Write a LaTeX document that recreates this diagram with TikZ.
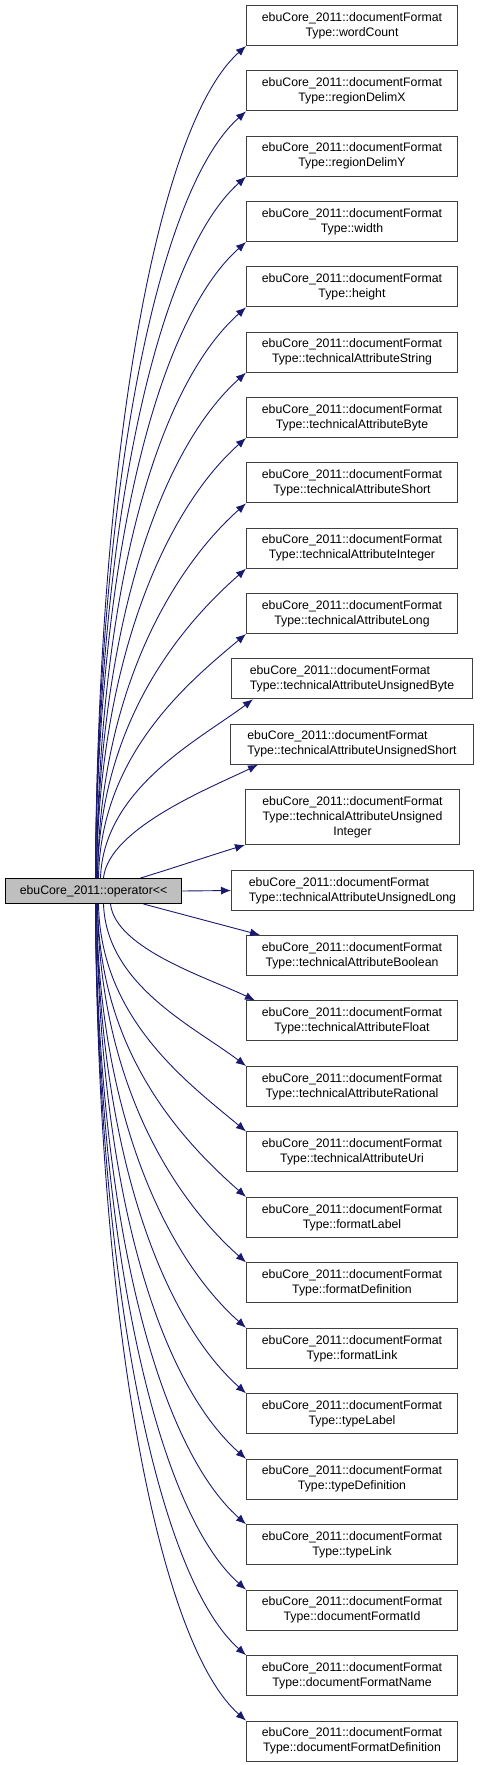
\documentclass[tikz,border=0pt]{standalone}
\usepackage{fontspec}
\setmainfont{Liberation Sans}
\usetikzlibrary{arrows.meta}
\definecolor{edgeblue}{HTML}{191970}
\definecolor{mainfill}{HTML}{BFBFBF}
\definecolor{boxline}{HTML}{404040}
\begin{document}
\begin{tikzpicture}[x={(1pt,0pt)},y={(0pt,-1pt)},
  box/.style={draw=boxline, line width=1pt, fill=white, anchor=north west,
    minimum width=211pt, minimum height=40pt, align=center, inner sep=0pt,
    font=\fontsize{12.3}{15}\selectfont},
  mainbox/.style={draw=black, line width=1pt, fill=mainfill, anchor=north west,
    minimum width=176pt, minimum height=25pt, inner sep=0pt,
    font=\fontsize{12.3}{15}\selectfont},
  edge/.style={draw=edgeblue, line width=0.9pt, -{Latex[length=10pt,width=8pt]}}]
\useasboundingbox (0,0) rectangle (480,1765);
\node[mainbox] (m) at (5,878) {ebuCore\_2011::operator\textless\kern0pt\textless};
\node[box] (b1) at (246,5) {ebuCore\_2011::documentFormat\\Type::wordCount};
\node[box] (b2) at (246,70.33) {ebuCore\_2011::documentFormat\\Type::regionDelimX};
\node[box] (b3) at (246,135.67) {ebuCore\_2011::documentFormat\\Type::regionDelimY};
\node[box] (b4) at (246,201) {ebuCore\_2011::documentFormat\\Type::width};
\node[box] (b5) at (246,266.33) {ebuCore\_2011::documentFormat\\Type::height};
\node[box] (b6) at (246,331.67) {ebuCore\_2011::documentFormat\\Type::technicalAttributeString};
\node[box] (b7) at (246,397) {ebuCore\_2011::documentFormat\\Type::technicalAttributeByte};
\node[box] (b8) at (246,462.33) {ebuCore\_2011::documentFormat\\Type::technicalAttributeShort};
\node[box] (b9) at (246,527.67) {ebuCore\_2011::documentFormat\\Type::technicalAttributeInteger};
\node[box] (b10) at (246,593) {ebuCore\_2011::documentFormat\\Type::technicalAttributeLong};
\node[box, align=left, minimum width=241pt] (b11) at (231,658.33) {ebuCore\_2011::documentFormat\\Type::technicalAttributeUnsignedByte};
\node[box, align=left, minimum width=243pt] (b12) at (230,723.67) {ebuCore\_2011::documentFormat\\Type::technicalAttributeUnsignedShort};
\node[box, minimum width=214pt, minimum height=55pt] (b13) at (245,789) {ebuCore\_2011::documentFormat\\Type::technicalAttributeUnsigned\\Integer};
\node[box, align=left, minimum width=242pt] (b14) at (231,870) {ebuCore\_2011::documentFormat\\Type::technicalAttributeUnsignedLong};
\node[box] (b15) at (246,935) {ebuCore\_2011::documentFormat\\Type::technicalAttributeBoolean};
\node[box] (b16) at (246,1000.47) {ebuCore\_2011::documentFormat\\Type::technicalAttributeFloat};
\node[box] (b17) at (246,1065.94) {ebuCore\_2011::documentFormat\\Type::technicalAttributeRational};
\node[box] (b18) at (246,1131.41) {ebuCore\_2011::documentFormat\\Type::technicalAttributeUri};
\node[box] (b19) at (246,1196.88) {ebuCore\_2011::documentFormat\\Type::formatLabel};
\node[box] (b20) at (246,1262.35) {ebuCore\_2011::documentFormat\\Type::formatDefinition};
\node[box] (b21) at (246,1327.82) {ebuCore\_2011::documentFormat\\Type::formatLink};
\node[box] (b22) at (246,1393.29) {ebuCore\_2011::documentFormat\\Type::typeLabel};
\node[box] (b23) at (246,1458.76) {ebuCore\_2011::documentFormat\\Type::typeDefinition};
\node[box] (b24) at (246,1524.23) {ebuCore\_2011::documentFormat\\Type::typeLink};
\node[box] (b25) at (246,1589.7) {ebuCore\_2011::documentFormat\\Type::documentFormatId};
\node[box] (b26) at (246,1655.17) {ebuCore\_2011::documentFormat\\Type::documentFormatName};
\node[box] (b27) at (246,1720.64) {ebuCore\_2011::documentFormat\\Type::documentFormatDefinition};
% upper edges
\draw[edge] ([xshift=2pt]m.north) .. controls +(2,-417) and +(-90,80) .. (b1.south west);
\draw[edge] ([xshift=2pt]m.north) .. controls +(2,-384) and +(-90,80) .. (b2.south west);
\draw[edge] ([xshift=2pt]m.north) .. controls +(2,-351) and +(-90,80) .. (b3.south west);
\draw[edge] ([xshift=2pt]m.north) .. controls +(2,-318) and +(-90,80) .. (b4.south west);
\draw[edge] ([xshift=3pt]m.north) .. controls +(2,-286) and +(-90,80) .. (b5.south west);
\draw[edge] ([xshift=3pt]m.north) .. controls +(2,-253) and +(-85,76) .. (b6.south west);
\draw[edge] ([xshift=3pt]m.north) .. controls +(2,-220) and +(-79,70) .. (b7.south west);
\draw[edge] ([xshift=4pt]m.north) .. controls +(2,-188) and +(-72,64) .. (b8.south west);
\draw[edge] ([xshift=4pt]m.north) .. controls +(2,-155) and +(-66,58) .. (b9.south west);
\draw[edge] ([xshift=5pt]m.north) .. controls +(2,-122) and +(-60,50) .. (b10.south west);
\draw[edge] ([xshift=7pt]m.north) .. controls +(3,-90) and +(-53,40) .. ([xshift=22pt]b11.south west);
\draw[edge] ([xshift=10pt]m.north) .. controls +(5,-50) and +(-45,22) .. ([xshift=28pt]b12.south west);
\draw[edge] ([xshift=47pt]m.north) .. controls +(30,-9) and +(-30,9) .. (b13.south west);
\draw[edge] (m.east) -- (b14.west);
% lower edges
\draw[edge] ([xshift=50pt]m.south) .. controls +(30,8) and +(-30,-8) .. ([xshift=14pt]b15.north west);
\draw[edge] ([xshift=17pt]m.south) .. controls +(5,45) and +(-45,-22) .. ([xshift=9pt]b16.north west);
\draw[edge] ([xshift=10pt]m.south) .. controls +(3,81) and +(-53,-40) .. (b17.north west);
\draw[edge] ([xshift=5pt]m.south) .. controls +(2,114) and +(-60,-50) .. (b18.north west);
\draw[edge] ([xshift=4pt]m.south) .. controls +(2,147) and +(-66,-58) .. (b19.north west);
\draw[edge] ([xshift=4pt]m.south) .. controls +(2,180) and +(-72,-64) .. (b20.north west);
\draw[edge] ([xshift=3pt]m.south) .. controls +(2,212) and +(-79,-70) .. (b21.north west);
\draw[edge] ([xshift=3pt]m.south) .. controls +(2,245) and +(-85,-76) .. (b22.north west);
\draw[edge] ([xshift=3pt]m.south) .. controls +(2,278) and +(-90,-80) .. (b23.north west);
\draw[edge] ([xshift=2pt]m.south) .. controls +(2,310) and +(-90,-80) .. (b24.north west);
\draw[edge] ([xshift=2pt]m.south) .. controls +(2,343) and +(-90,-80) .. (b25.north west);
\draw[edge] ([xshift=2pt]m.south) .. controls +(2,376) and +(-90,-80) .. (b26.north west);
\draw[edge] ([xshift=2pt]m.south) .. controls +(2,409) and +(-90,-80) .. (b27.north west);
\end{tikzpicture}
\end{document}
